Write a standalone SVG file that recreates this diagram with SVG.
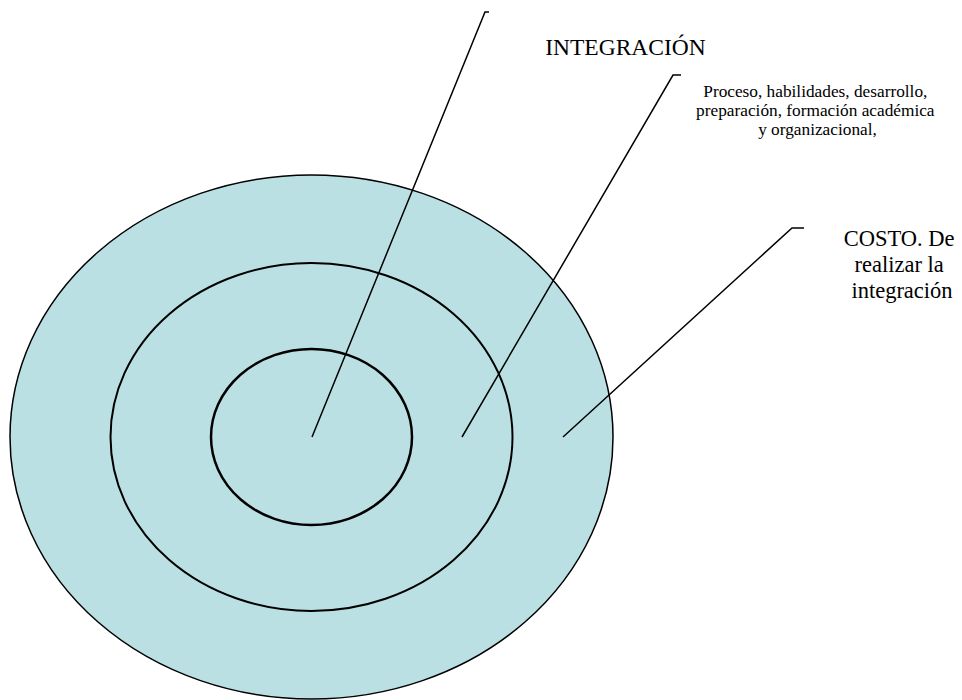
<svg xmlns="http://www.w3.org/2000/svg" width="962" height="700" viewBox="0 0 962 700">
  <style>
    .ring { fill: #BBE0E3; stroke: #000; }
    .lead { fill: none; stroke: #000; stroke-width: 1.5; stroke-linejoin: miter; }
    .lbl { font-family: "Liberation Serif", "Times New Roman", serif; fill: #000; text-anchor: middle; }
  </style>
  <rect x="0" y="0" width="962" height="700" fill="#fff"/>
  <g id="outer-ring">
    <ellipse class="ring" cx="311.5" cy="437" rx="301.5" ry="262" stroke-width="1.5"/>
  </g>
  <g id="middle-ring">
    <ellipse class="ring" cx="311.5" cy="437" rx="201" ry="174" stroke-width="2"/>
  </g>
  <g id="inner-ring">
    <ellipse class="ring" cx="311.5" cy="437" rx="100.5" ry="88" stroke-width="2.5"/>
  </g>
  <g id="connectors">
    <polyline class="lead" points="312,437 485,12 489,12"/>
    <polyline class="lead" points="462,437 673,75 681,75"/>
    <polyline class="lead" points="563,437 792,228 804,228"/>
  </g>
  <g id="label-integracion">
    <text class="lbl" x="625.5" y="55" font-size="23.5">INTEGRACIÓN</text>
  </g>
  <g id="label-proceso">
    <text class="lbl" font-size="17.3">
      <tspan x="817.5" y="97">Proceso, habilidades, desarrollo,</tspan>
      <tspan x="817.5" y="116">preparación, formación académica</tspan>
      <tspan x="817.5" y="135">y organizacional,</tspan>
    </text>
  </g>
  <g id="label-costo">
    <text class="lbl" font-size="22.5">
      <tspan x="902" y="246">COSTO. De</tspan>
      <tspan x="902" y="272">realizar la</tspan>
      <tspan x="902" y="298">integración</tspan>
    </text>
  </g>
</svg>
